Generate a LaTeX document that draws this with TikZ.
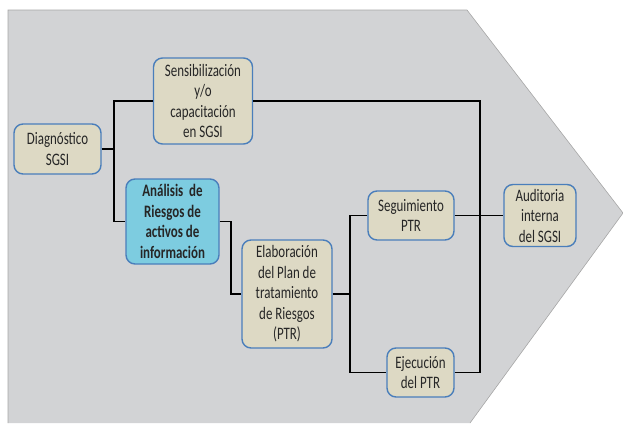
\documentclass[tikz,border=0pt]{standalone}
\usepackage{fontspec}
\setmainfont{Carlito}[FakeStretch=0.74]
\definecolor{bggray}{HTML}{D2D3D5}
\definecolor{tanfill}{HTML}{DDD9C4}
\definecolor{boxblue}{HTML}{4A7EBB}
\definecolor{cyanfill}{HTML}{7DCCE0}
\begin{document}
\begin{tikzpicture}[x=1pt,y=-1pt,
  stepbox/.style={draw=boxblue, line width=1.4pt, fill=tanfill, rounded corners=9pt,
    align=center, inner sep=0pt, font=\fontsize{17.5}{20.5}\selectfont, text=black!85},
  conn/.style={line width=1.3pt, black}]
\useasboundingbox (0,0) rectangle (623,423);
\fill[bggray] (8,10) -- (467,10) -- (623,213) -- (470,423) -- (8,423) -- cycle;
\draw[gray!70, line width=0.6pt] (8,423) -- (8,10) -- (467,10) -- (623,213) -- (470,423);

\node[stepbox, minimum width=87pt, minimum height=50pt] (diag) at (57.5,149) {Diagnóstico\\SGSI};
\node[stepbox, minimum width=99pt, minimum height=86pt] (sens) at (203,101) {Sensibilización\\y/o\\capacitación\\en SGSI};
\node[stepbox, fill=cyanfill, minimum width=93pt, minimum height=85pt, font=\fontsize{17.5}{20.5}\selectfont\bfseries] (anal) at (172.5,221.5) {Análisis \,de\\Riesgos de\\activos de\\información};
\node[stepbox, minimum width=90pt, minimum height=108pt] (elab) at (287,294) {Elaboración\\del Plan de\\tratamiento\\de Riesgos\\(PTR)};
\node[stepbox, minimum width=86pt, minimum height=49pt] (seg) at (411,215.5) {Seguimiento\\PTR};
\node[stepbox, minimum width=67pt, minimum height=49pt] (ejec) at (420.5,372.5) {Ejecución\\del PTR};
\node[stepbox, minimum width=72pt, minimum height=62pt] (aud) at (540,215.5) {Auditoria\\interna\\del SGSI};

\coordinate (j1) at (114,149);
\coordinate (ja) at (231,221.5);
\coordinate (je) at (350,294);
\coordinate (jr) at (480,215.5);

\draw[conn] (diag.east) -- (j1);
\draw[conn] (sens.west) -| (j1) |- (anal.west);
\draw[conn] (anal.east) -- (ja) |- (elab.west);
\draw[conn] (elab.east) -- (je);
\draw[conn] (seg.west) -| (je) |- (ejec.west);
\draw[conn] (sens.east) -| (jr);
\draw[conn] (ejec.east) -| (jr);
\draw[conn] (seg.east) -- (aud.west);
\end{tikzpicture}
\end{document}
